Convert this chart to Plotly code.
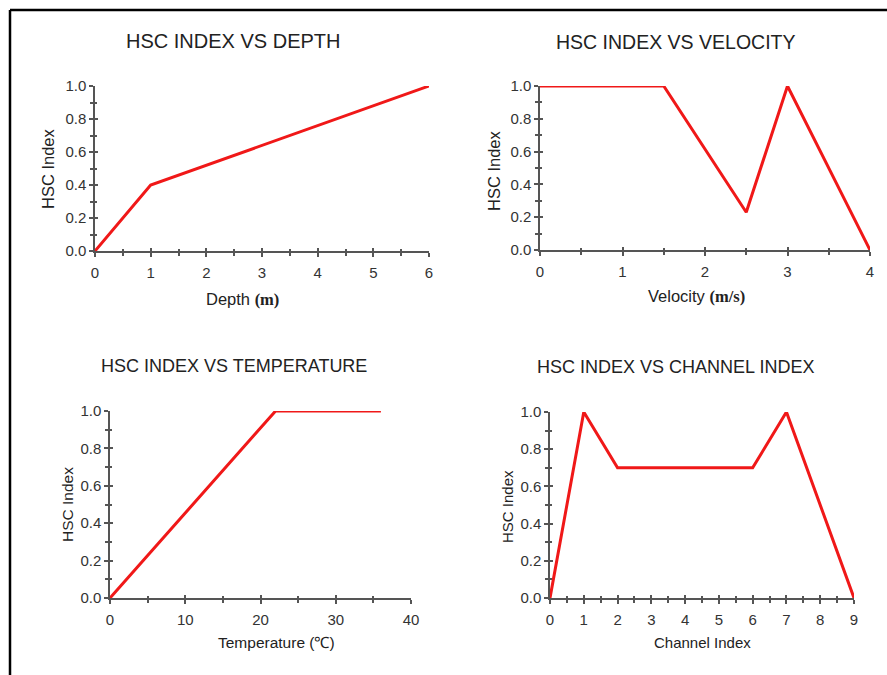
import plotly.graph_objects as go

# ---- data ----
depth_m = [0, 1, 6]
depth_hsc = [0.0, 0.4, 1.0]

velocity_ms = [0, 1.5, 2.5, 3, 4]
velocity_hsc = [1.0, 1.0, 0.23, 1.0, 0.0]

temperature_c = [0, 22, 36]
temperature_hsc = [0.0, 1.0, 1.0]

channel_idx = [0, 1, 2, 6, 7, 9]
channel_hsc = [0.0, 1.0, 0.7, 0.7, 1.0, 0.0]

panel_titles = ["HSC INDEX VS DEPTH", "HSC INDEX VS VELOCITY",
                "HSC INDEX VS TEMPERATURE", "HSC INDEX VS CHANNEL INDEX"]
serif_bold = "<span style=\"font-family:'Liberation Serif';font-weight:bold\">"
x_titles = ["Depth " + serif_bold + "(m)</span>",
            "Velocity " + serif_bold + "(m/s)</span>",
            "Temperature (℃)",
            "Channel Index"]
y_title = "HSC Index"

x_ranges = [[0, 6], [0, 4], [0, 40], [0, 9]]
x_dticks = [1, 1, 10, 1]
x_minor = [0.5, 0.5, 5, 0.5]

W, H = 887, 675
# plot areas in pixels: (left, right, top, bottom)
boxes = [(95, 429, 86, 251), (540, 870, 86, 250),
         (110, 411, 411, 598), (550, 854, 412, 598)]
# title / axis-title pixel anchors
title_pos = [(233, 41), (675, 42), (234, 366), (675, 367)]
xt_pos = [(242, 299), (696, 297), (276, 642), (702, 642)]
yt_pos = [(48, 169), (494, 170), (67, 505), (508, 507)]
# per-panel text sizes: title, axis title
title_sizes = [20, 19.5, 18, 18]
axis_title_sizes = [16.5, 16.5, 15.5, 15]

series = [(depth_m, depth_hsc), (velocity_ms, velocity_hsc),
          (temperature_c, temperature_hsc), (channel_idx, channel_hsc)]

RED = "#f01818"
AX = "#555555"
FONT = "Liberation Sans, Arial, sans-serif"

fig = go.Figure()
layout = dict(width=W, height=H, margin=dict(l=0, r=0, t=0, b=0, pad=0),
              template="none", autosize=False,
              paper_bgcolor="white", plot_bgcolor="white", showlegend=False)

def px(x):
    return x / W

def py(y):
    return 1 - y / H

annotations = []
for i, ((xs, ys), (l, r, t, b)) in enumerate(zip(series, boxes)):
    k = i + 1
    ko = i + 5
    xa = f"xaxis{k}" if k > 1 else "xaxis"
    ya = f"yaxis{k}" if k > 1 else "yaxis"
    xr = f"x{k}" if k > 1 else "x"
    yr = f"y{k}" if k > 1 else "y"
    dom_x = [px(l), px(r)]
    dom_y = [py(b), py(t)]

    fig.add_trace(go.Scatter(x=xs, y=ys, mode="lines", xaxis=xr, yaxis=yr,
                             line=dict(color=RED, width=3), cliponaxis=False,
                             hoverinfo="skip"))
    # overlay pair carrying the inner half of each tick
    fig.add_trace(go.Scatter(x=[None], y=[None], mode="lines",
                             xaxis=f"x{ko}", yaxis=f"y{ko}", hoverinfo="skip"))

    common = dict(showgrid=False, zeroline=False, color=AX, automargin=False,
                  tickfont=dict(family=FONT, size=15, color="#333333"))
    layout[xa] = dict(domain=dom_x, anchor=yr, range=x_ranges[i],
                      dtick=x_dticks[i], tick0=0, showline=True, linecolor=AX,
                      linewidth=1.5, ticks="outside", ticklen=4, tickwidth=1.5,
                      tickcolor=AX, ticklabelstandoff=3,
                      minor=dict(dtick=x_minor[i], ticks="outside", ticklen=3,
                                 tickcolor=AX, tickwidth=1.5),
                      **common)
    layout[ya] = dict(domain=dom_y, anchor=xr, range=[0, 1], dtick=0.2,
                      tick0=0, tickformat=".1f", showline=True, linecolor=AX,
                      linewidth=1.5, ticks="outside", ticklen=4, tickwidth=1.5,
                      tickcolor=AX,
                      minor=dict(dtick=0.1, ticks="outside", ticklen=3,
                                 tickcolor=AX, tickwidth=1.5),
                      **common)
    hidden = dict(showticklabels=False, showline=False, showgrid=False,
                  zeroline=False, automargin=False, ticks="inside",
                  ticklen=3, tickwidth=1.5, tickcolor=AX)
    layout[f"xaxis{ko}"] = dict(domain=dom_x, anchor=f"y{ko}", overlaying=xr,
                                range=x_ranges[i], dtick=x_dticks[i], tick0=0,
                                minor=dict(dtick=x_minor[i], ticks="inside",
                                           ticklen=2, tickcolor=AX,
                                           tickwidth=1.5),
                                **hidden)
    layout[f"yaxis{ko}"] = dict(domain=dom_y, anchor=f"x{ko}", overlaying=yr,
                                range=[0, 1], dtick=0.2, tick0=0,
                                minor=dict(dtick=0.1, ticks="inside",
                                           ticklen=2, tickcolor=AX,
                                           tickwidth=1.5),
                                **hidden)

    tx, ty = title_pos[i]
    annotations.append(dict(text=panel_titles[i], x=px(tx), y=py(ty),
                            xref="paper", yref="paper", showarrow=False,
                            xanchor="center", yanchor="middle",
                            font=dict(family=FONT, size=title_sizes[i],
                                      color="#222222")))
    ax_, ay_ = xt_pos[i]
    annotations.append(dict(text=x_titles[i], x=px(ax_), y=py(ay_),
                            xref="paper", yref="paper", showarrow=False,
                            xanchor="center", yanchor="middle",
                            font=dict(family=FONT, size=axis_title_sizes[i],
                                      color="#222222")))
    bx, by = yt_pos[i]
    annotations.append(dict(text=y_title, x=px(bx), y=py(by), textangle=-90,
                            xref="paper", yref="paper", showarrow=False,
                            xanchor="center", yanchor="middle",
                            font=dict(family=FONT, size=axis_title_sizes[i],
                                      color="#222222")))

layout["annotations"] = annotations
# frame lines along the top and left edges of the page
layout["shapes"] = [
    dict(type="line", xref="paper", yref="paper", x0=px(10), x1=1,
         y0=py(10), y1=py(10), line=dict(color="black", width=2.5)),
    dict(type="line", xref="paper", yref="paper", x0=px(10), x1=px(10),
         y0=py(10), y1=0, line=dict(color="black", width=2.5)),
]
fig.update_layout(**layout)
fig.write_html(
    "out.html",
    post_script="document.body.style.margin='0';"
                "document.body.style.overflow='hidden';",
)
